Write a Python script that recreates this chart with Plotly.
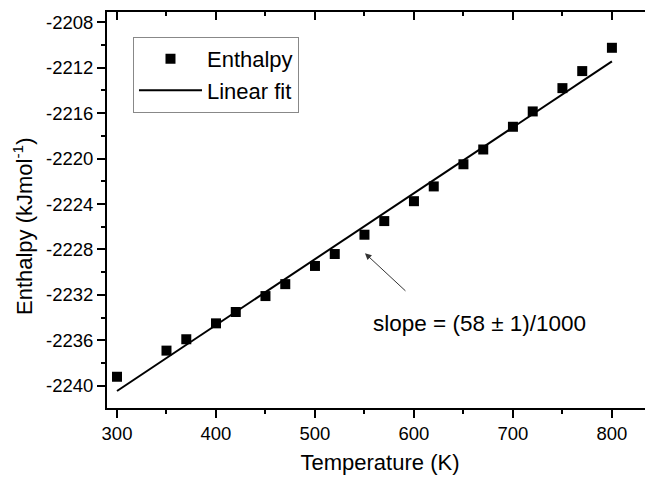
import plotly.graph_objects as go

temperature = [300, 350, 370, 400, 420, 450, 470, 500, 520, 550, 570, 600, 620, 650, 670, 700, 720, 750, 770, 800]
enthalpy = [-2239.2, -2236.9, -2235.9, -2234.5, -2233.5, -2232.1, -2231.05, -2229.45, -2228.4, -2226.7,
            -2225.5, -2223.75, -2222.45, -2220.5, -2219.2, -2217.2, -2215.85, -2213.8, -2212.3, -2210.25]
fit_x = [300, 800]
fit_y = [-2240.45, -2211.45]

x_ticks = [300, 400, 500, 600, 700, 800]
x_labels = ["300", "400", "500", "600", "700", "800"]
y_ticks = [-2240, -2236, -2232, -2228, -2224, -2220, -2216, -2212, -2208]
y_labels = ["-2240", "-2236", "-2232", "-2228", "-2224", "-2220", "-2216", "-2212", "-2208"]

FONT = "Liberation Sans, Arial, sans-serif"
X_RANGE = [289.9, 841.5]
Y_RANGE = [-2241.95, -2207.1]

fig = go.Figure()
fig.add_trace(go.Scatter(x=temperature, y=enthalpy, mode="markers", name="Enthalpy",
                         marker=dict(symbol="square", size=10, color="black")))
fig.add_trace(go.Scatter(x=fit_x, y=fit_y, mode="lines", name="Linear fit",
                         xaxis="x2", yaxis="y2",
                         line=dict(color="black", width=2)))

fig.add_annotation(x=550.5, y=-2228.33, ax=42, ay=39, text="", showarrow=True,
                   arrowhead=2, arrowsize=1.3, arrowwidth=1, arrowcolor="#333")
fig.add_annotation(x=666.7, y=-2234.5, text="slope = (58 ± 1)/1000", showarrow=False,
                   font=dict(size=22.5, color="black", family=FONT))
# y-axis title (placed as rotated text to match the original's vertical offset)
fig.add_annotation(xref="paper", yref="paper", x=-0.1538, y=0.4596, xanchor="center", yanchor="middle",
                   textangle=-90, showarrow=False, text="Enthalpy (kJmol<sup>-1</sup>)",
                   font=dict(size=22, color="black", family=FONT))

fig.update_layout(
    width=645, height=471,
    margin=dict(l=99, r=0, t=4, b=71),
    paper_bgcolor="white", plot_bgcolor="white",
    font=dict(family=FONT, color="black"),
    showlegend=True,
    legend=dict(x=0.0476, y=0.937, xanchor="left", yanchor="top",
                bordercolor="#888", borderwidth=1, bgcolor="white",
                font=dict(size=22, family=FONT), itemwidth=63, tracegroupgap=0),
    xaxis=dict(range=X_RANGE, tickvals=x_ticks, ticktext=x_labels, ticks="outside", ticklen=8, tickwidth=1.5,
               tickcolor="black", showline=True, linecolor="black", linewidth=2, mirror=True,
               showgrid=False, zeroline=False, tickfont=dict(size=18.5, family=FONT),
               minor=dict(ticks="outside", ticklen=4, tickwidth=1.5, tickcolor="black", dtick=50, showgrid=False),
               title=dict(text="Temperature (K)", font=dict(size=22, family=FONT), standoff=11)),
    yaxis=dict(range=Y_RANGE, tickvals=y_ticks, ticktext=y_labels, ticks="outside", ticklen=8, tickwidth=1.5,
               tickcolor="black", showline=True, linecolor="black", linewidth=2,
               showgrid=False, zeroline=False, tickfont=dict(size=18.5, family=FONT),
               minor=dict(ticks="outside", ticklen=4, tickwidth=1.5, tickcolor="black", dtick=2, showgrid=False)),
    xaxis2=dict(range=X_RANGE, overlaying="x", side="top", anchor="y", tickvals=x_ticks,
                ticks="inside", ticklen=8, tickwidth=1.5, tickcolor="black", showticklabels=False,
                showline=False, showgrid=False, zeroline=False,
                minor=dict(ticks="inside", ticklen=4, tickwidth=1.5, tickcolor="black", dtick=50, showgrid=False)),
    yaxis2=dict(range=Y_RANGE, overlaying="y", side="right", anchor="x", tickvals=y_ticks,
                ticks="inside", ticklen=4, tickwidth=1.5, tickcolor="black", showticklabels=False,
                showline=False, showgrid=False, zeroline=False),
)

fig.write_html("out.html")
